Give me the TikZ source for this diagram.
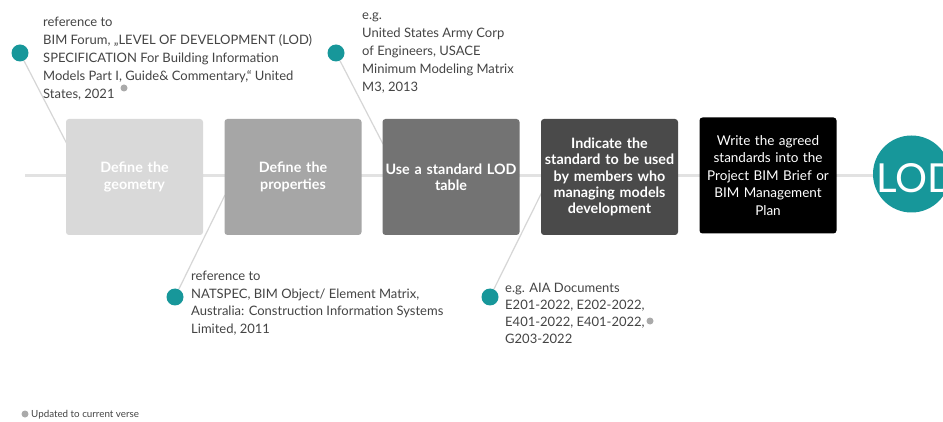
\documentclass[tikz,border=0pt]{standalone}
\usepackage{fontspec}
\setmainfont{Lato}
\definecolor{tealdot}{HTML}{17979A}
\definecolor{notegray}{HTML}{444444}
\definecolor{linegray}{HTML}{D6D6D6}
\definecolor{mainline}{HTML}{E2E2E2}
\definecolor{boxA}{HTML}{D9D9D9}
\definecolor{boxB}{HTML}{A6A6A6}
\definecolor{boxC}{HTML}{737373}
\definecolor{boxD}{HTML}{4A4A4A}
\definecolor{boxE}{HTML}{000000}
\definecolor{fngray}{HTML}{AAAAAA}
\tikzset{
  stepbox/.style={rectangle, rounded corners=3pt, minimum width=137pt, minimum height=116pt,
    inner sep=0pt, text width=137pt, align=center, text=white,
    font=\fontsize{14.3}{16.3}\selectfont\bfseries},
  lastbox/.style={stepbox, font=\fontsize{13.5}{17.5}\selectfont},
  note/.style={anchor=base west, inner sep=0pt, align=left, text=notegray,
    font=\fontsize{13}{18}\selectfont},
  tdot/.style={circle, fill=tealdot, minimum size=17pt, inner sep=0pt},
  fnmark/.style={circle, fill=fngray, minimum size=7pt, inner sep=0pt},
  conn/.style={draw=linegray, line width=1.2pt},
  axis/.style={draw=mainline, line width=3pt}
}
\begin{document}
\begin{tikzpicture}[x=1pt,y=-1pt]
\useasboundingbox (0,0) rectangle (943,422);
\clip (0,0) rectangle (943,422);
\fill[white] (0,0) rectangle (943,422);

% LOD circle and main line
\node[circle, fill=tealdot, minimum size=77pt, inner sep=0pt] (lod) at (911.5,174) {};
\coordinate (start) at (25,176);
\coordinate (lodw) at (873,176);
\draw[axis] (start) -- (lodw);
\node[anchor=base west, inner sep=0pt, text=white, font=\fontsize{40}{40}\selectfont\addfontfeature{Weight=Light}] (lodtxt) at (876,193) {LOD};

% dots
\node[tdot] (d1) at (20,53) {};
\node[tdot] (d2) at (336,53) {};
\node[tdot] (d3) at (175,297) {};
\node[tdot] (d4) at (490,297) {};

\coordinate (e1) at (67,144);
\coordinate (e2) at (383,144);
\coordinate (e3) at (225,195);
\coordinate (e4) at (542,192);
\draw[conn] (d1) -- (e1);
\draw[conn] (d2) -- (e2);
\draw[conn] (d3) -- (e3);
\draw[conn] (d4) -- (e4);

% boxes
\node[stepbox, fill=boxA] (b1) at (134.5,177) {Define the\\geometry};
\node[stepbox, fill=boxB] (b2) at (293,177) {Define the\\properties};
\node[stepbox, fill=boxC] (b3) at (451,177) {Use a standard LOD\\table};
\node[stepbox, fill=boxD] (b4) at (609.5,177) {Indicate the\\standard to be used\\by members who\\managing models\\development};
\node[lastbox, fill=boxE] (b5) at (768,175.5) {Write the agreed\\standards into the\\Project BIM Brief or\\BIM Management\\Plan};

% notes (anchored at the baseline of the last line)
\node[note] (n1) at (43,99) {reference to\\BIM Forum, „LEVEL OF DEVELOPMENT (LOD)\\SPECIFICATION For Building Information\\Models Part I, Guide\& Commentary,“ United\\States, 2021};
\node[fnmark] (f1) at (124,88) {};
\node[note] (n2) at (362,92) {e.g.\\United States Army Corp\\of Engineers, USACE\\Minimum Modeling Matrix\\M3, 2013};
\node[note, font=\fontsize{13}{17.5}\selectfont] (n3) at (191,333) {reference to\\NATSPEC, BIM Object/ Element Matrix,\\Australia: Construction Information Systems\\Limited, 2011};
\node[note, font=\fontsize{13}{17}\selectfont] (n4) at (505,343) {e.g. AIA Documents\\E201-2022, E202-2022,\\E401-2022, E401-2022,\\G203-2022};
\node[fnmark] (f2) at (650,321) {};

% legend
\node[fnmark] (f3) at (25,414) {};
\node[anchor=base west, inner sep=0pt, text=notegray, font=\fontsize{9.8}{10}\selectfont] (leg) at (31,417) {Updated to current verse};
\end{tikzpicture}
\end{document}
